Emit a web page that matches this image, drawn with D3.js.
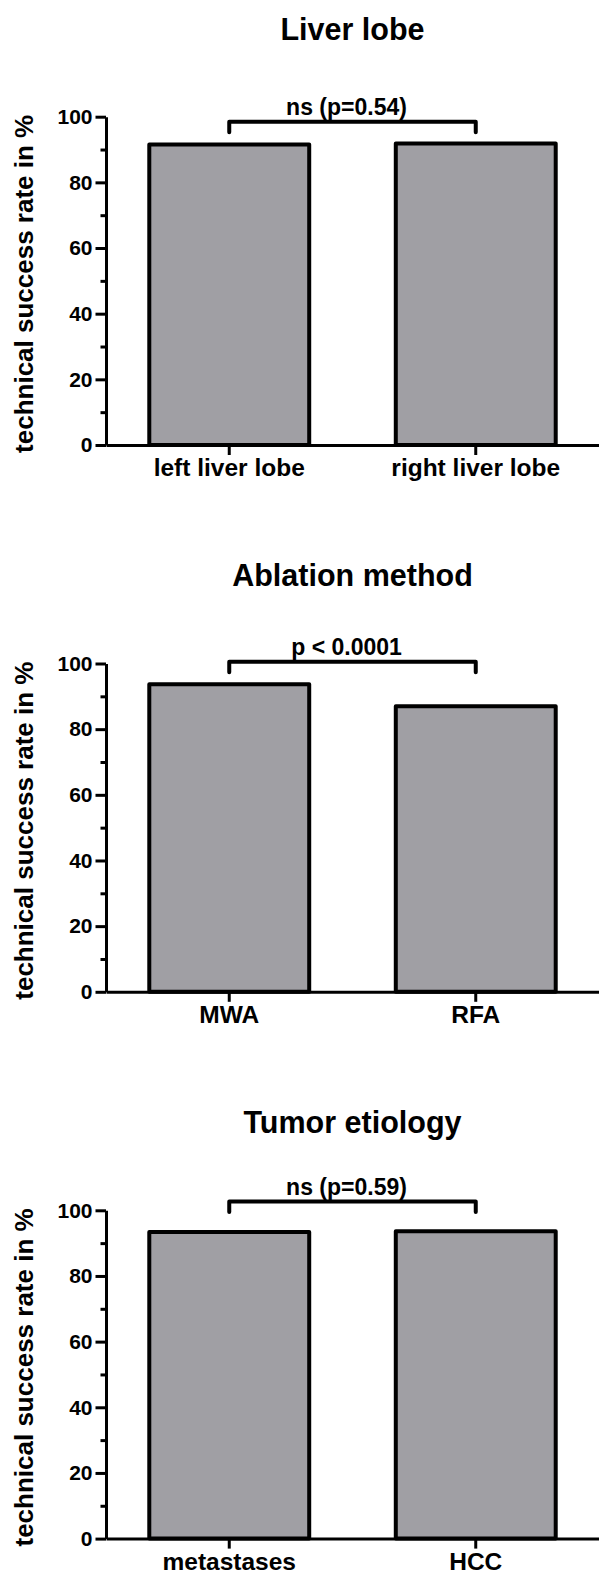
<!DOCTYPE html>
<html>
<head>
<meta charset="utf-8">
<script src="https://cdn.jsdelivr.net/npm/d3@7"></script>
<style>
  body { margin: 0; background: #fff; }
  svg { display: block; }
  text { font-family: "Liberation Sans", Arial, sans-serif; font-weight: bold; fill: #000; }
</style>
</head>
<body>
<div id="chart"></div>
<script>
// values
const titles = ["Liver lobe", "Ablation method", "Tumor etiology"];
const categories = [
    ["left liver lobe", "right liver lobe"],
    ["MWA", "RFA"],
    ["metastases", "HCC"]
];
const rates = [
    [91.5, 91.8],
    [93.7, 87.0],
    [93.4, 93.6]
];
const pLabels = ["ns (p=0.54)", "p < 0.0001", "ns (p=0.59)"];
const bracketLevels = [98.5, 100.5, 102.7];
const yTicks = [0, 20, 40, 60, 80, 100];
const yMinorTicks = [10, 30, 50, 70, 90];
const yLabel = "technical success rate in %";

const W = 599, H = 1575;
const panelStep = 546.8;

const svg = d3.select("#chart").append("svg")
    .attr("width", W)
    .attr("height", H);

const x = d3.scaleBand()
    .range([106, 599])
    .paddingInner(0.335)
    .paddingOuter(0.1675);

const y = d3.scaleLinear()
    .domain([0, 100])
    .range([445, 116.7]);

titles.forEach((title, i) => {
    let g = svg.append("g")
        .attr("transform", "translate(0," + (i * panelStep) + ")");

    x.domain(categories[i]);
    let bw = x.bandwidth();

    // title
    g.append("text")
        .attr("x", 352.5)
        .attr("y", 39.5)
        .attr("text-anchor", "middle")
        .style("font-size", "30.5px")
        .text(title);

    // y axis label
    g.append("text")
        .attr("transform", "translate(33," + ((y(0) + y(100)) / 2 + 3) + ") rotate(-90)")
        .attr("text-anchor", "middle")
        .style("font-size", "26px")
        .text(yLabel);

    // bars
    g.selectAll("rect.bar")
        .data(categories[i].map((c, j) => ({cat: c, val: rates[i][j]})))
        .join("rect")
        .attr("class", "bar")
        .attr("x", d => x(d.cat) + 2)
        .attr("y", d => y(d.val))
        .attr("width", bw - 4)
        .attr("height", d => y(0) - y(d.val))
        .attr("fill", "#a09fa4")
        .attr("stroke", "#000")
        .attr("stroke-width", 4)
        .attr("stroke-linejoin", "round");

    // y axis, major + minor ticks
    let yAxis = g.append("g")
        .attr("transform", "translate(106,0)")
        .call(d3.axisLeft(y).tickValues(yTicks).tickSize(10.5).tickSizeOuter(0).tickPadding(3));
    g.append("g")
        .attr("transform", "translate(106,0)")
        .call(d3.axisLeft(y).tickValues(yMinorTicks).tickSize(5.5).tickSizeOuter(0).tickFormat(""))
        .select(".domain").remove();

    // x axis
    let xAxis = g.append("g")
        .attr("transform", "translate(0," + y(0) + ")")
        .call(d3.axisBottom(x).tickSize(10).tickSizeOuter(0));

    g.selectAll(".domain, .tick line")
        .attr("stroke", "#000")
        .attr("stroke-width", 3);

    yAxis.selectAll("text")
        .style("font-size", "21px")
        .style("font-family", "'Liberation Sans', Arial, sans-serif")
        .attr("fill", "#000");

    xAxis.selectAll("text")
        .style("font-size", "24.5px")
        .style("font-family", "'Liberation Sans', Arial, sans-serif")
        .attr("fill", "#000")
        .attr("y", 31)
        .attr("dy", 0);

    // significance bracket
    let x1 = x(categories[i][0]) + bw / 2;
    let x2 = x(categories[i][1]) + bw / 2;
    let by = y(bracketLevels[i]);
    g.append("path")
        .attr("d", d3.line()([[x1, by + 10.5], [x1, by], [x2, by], [x2, by + 10.5]]))
        .attr("fill", "none")
        .attr("stroke", "#000")
        .attr("stroke-width", 4)
        .attr("stroke-linecap", "round")
        .attr("stroke-linejoin", "round");

    g.append("text")
        .attr("x", (x1 + x2) / 2 - 6)
        .attr("y", by - 6.5)
        .attr("text-anchor", "middle")
        .style("font-size", "23px")
        .text(pLabels[i]);
});
</script>
</body>
</html>
